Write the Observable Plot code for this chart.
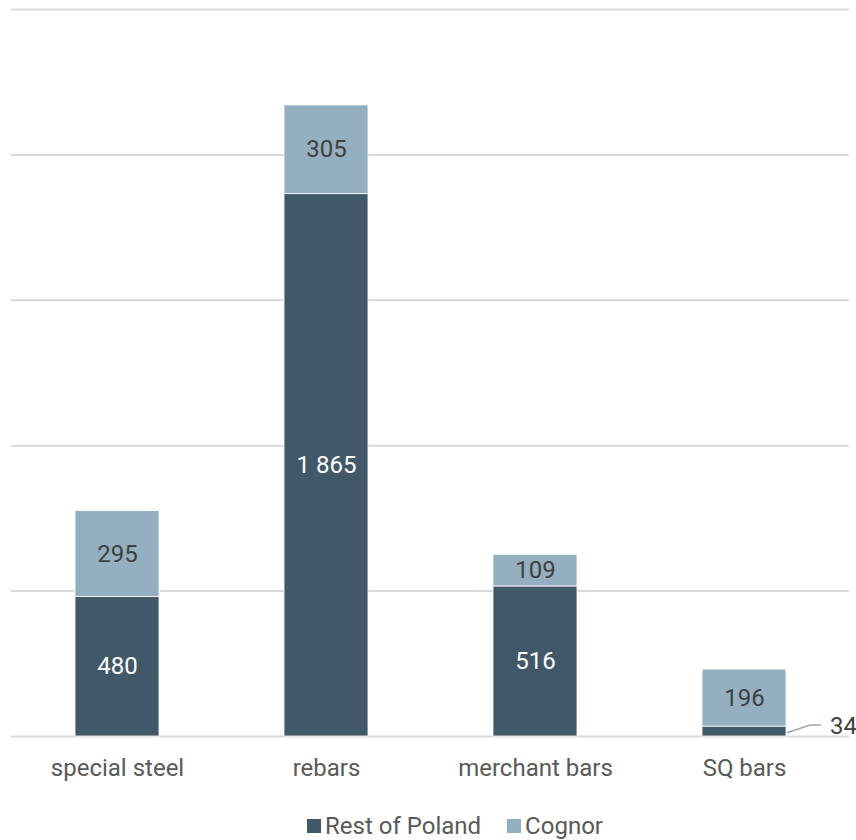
<!DOCTYPE html>
<html>
<head>
<meta charset="utf-8">
<script src="https://cdn.jsdelivr.net/npm/d3@7"></script>
<script src="https://cdn.jsdelivr.net/npm/@observablehq/plot@0.6"></script>
<style>
  html, body { margin: 0; padding: 0; background: #fff; }
  body { width: 856px; height: 840px; overflow: hidden; font-family: Roboto, "Noto Sans", sans-serif; }
  #legend { display: flex; justify-content: center; align-items: center; padding-top: 23px; padding-left: 54px; font-size: 24px; line-height: 26px; color: #595959; }
  .item { display: flex; align-items: center; margin: 0 13px; }
  .sw { width: 14px; height: 14px; margin-right: 4px; display: inline-block; }
</style>
</head>
<body>
<div id="chart"></div>
<div id="legend"></div>
<script>
const categories = ["special steel", "rebars", "merchant bars", "SQ bars"];
const seriesNames = ["Rest of Poland", "Cognor"];
const restOfPoland = [480, 1865, 516, 34];
const cognor = [295, 305, 109, 196];
const gridTicks = [0, 500, 1000, 1500, 2000, 2500];
const colors = ["#415868", "#94afc0"];
const labelColors = ["#ffffff", "#404040"];

const rows = [];
categories.forEach((c, i) => {
  rows.push({category: c, series: seriesNames[0], value: restOfPoland[i]});
  rows.push({category: c, series: seriesNames[1], value: cognor[i]});
});

const fmt = v => d3.format(",")(v).replace(/,/g, " ");
const small = d => d.value < 60;

const leader = (index, scales) => {
  const x = scales.x, y = scales.y;
  const bw = typeof x.bandwidth === "function" ? x.bandwidth() : x.bandwidth;
  const g = d3.create("svg:g");
  rows.filter(small).forEach(d => {
    const right = x(d.category) + bw;
    const y0 = y(d.value / 3), y1 = y(d.value * 1.1);
    g.append("path")
      .attr("d", `M${right + 1},${y0}L${right + 24},${y1}L${right + 35},${y1}`)
      .attr("fill", "none").attr("stroke", "#a6a6a6").attr("stroke-width", 1.5);
    g.append("text")
      .attr("x", right + 44).attr("y", y1).attr("dy", "0.35em")
      .attr("text-anchor", "start")
      .attr("font-size", 24).attr("fill", "#404040")
      .text(fmt(d.value));
  });
  return g.node();
};

const chart = Plot.plot({
  width: 856,
  height: 790,
  marginTop: 9,
  marginBottom: 54,
  marginLeft: 11,
  marginRight: 7,
  style: {fontFamily: "Roboto, 'Noto Sans', sans-serif", background: "#fff", overflow: "visible"},
  x: {domain: categories, paddingInner: 0.6, paddingOuter: 0.3, label: null},
  y: {domain: [0, 2500], axis: null},
  color: {domain: seriesNames, range: colors},
  marks: [
    Plot.ruleY(gridTicks, {stroke: "#d9d9d9", strokeWidth: 2}),
    Plot.barY(rows, {x: "category", y: "value", fill: "series", stroke: "#ffffff", strokeWidth: 0.8}),
    Plot.text(rows, Plot.stackY({
      x: "category", y: "value", z: "series",
      text: d => small(d) ? "" : fmt(d.value),
      fill: d => labelColors[seriesNames.indexOf(d.series)],
      fontSize: 24
    })),
    leader,
    Plot.axisX({tickSize: 0, tickPadding: 22, fontSize: 24, fill: "#595959"})
  ]
});
document.getElementById("chart").appendChild(chart);

const legend = document.getElementById("legend");
seriesNames.forEach((s, i) => {
  const item = document.createElement("div");
  item.className = "item";
  const sw = document.createElement("span");
  sw.className = "sw";
  sw.style.background = colors[i];
  const t = document.createElement("span");
  t.textContent = s;
  item.appendChild(sw);
  item.appendChild(t);
  legend.appendChild(item);
});
</script>
</body>
</html>
